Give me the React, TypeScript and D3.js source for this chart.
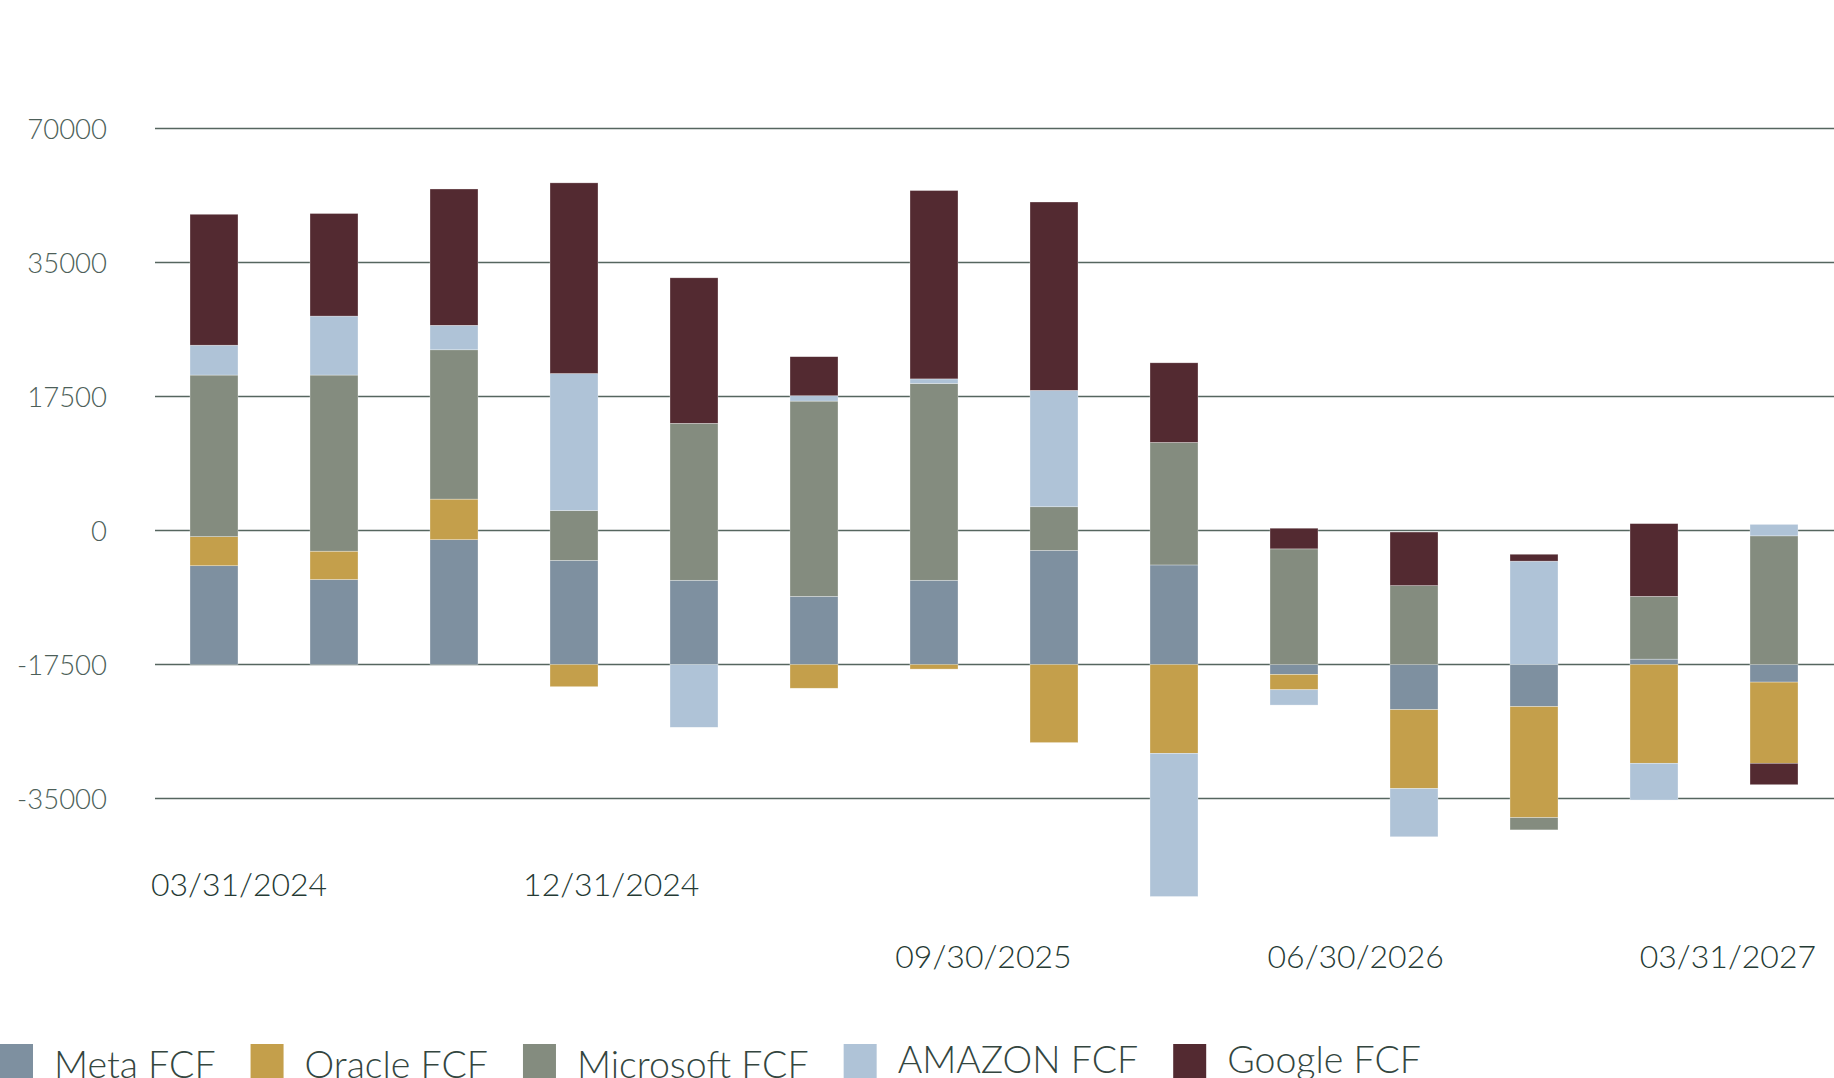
import { useEffect, useRef } from "react";
import * as d3 from "d3";

const W = 1834;
const H = 1078;

// quarter ends, one bar each
const quarters = [
  "03/31/2024", "06/30/2024", "09/30/2024", "12/31/2024",
  "03/31/2025", "06/30/2025", "09/30/2025", "12/31/2025",
  "03/31/2026", "06/30/2026", "09/30/2026", "12/31/2026",
  "03/31/2027", "06/30/2027",
];

// free cash flow per company (millions)
const metaFcf = [12900, 11100, 16300, 13600, 11000, 8900, 11000, 14900, 13000, -1300, -5900, -5500, 700, -2300];
const oracleFcf = [3800, 3700, 5300, -2900, 0, -3100, -600, -10200, -11600, -2000, -10300, -14500, -12900, -10600];
const microsoftFcf = [21100, 23000, 19500, 6500, 20500, 25500, 25700, 5700, 16000, 15100, 10300, -1600, 8200, 16800];
const amazonFcf = [3900, 7700, 3200, 17900, -8200, 700, 600, 15200, -18700, -2000, -6300, 13500, -4800, 1500];
const googleFcf = [17100, 13400, 17800, 24900, 19000, 5100, 24600, 24600, 10400, 2700, 7000, 900, 9500, -2800];

const seriesNames = ["Meta FCF", "Oracle FCF", "Microsoft FCF", "AMAZON FCF", "Google FCF"];
const seriesValues = [metaFcf, oracleFcf, microsoftFcf, amazonFcf, googleFcf];
const seriesColors = ["#7e90a0", "#c49f4b", "#848c7f", "#afc3d7", "#532a31"];

// gridlines and the labels printed next to them (as they appear in the source)
const tickValues = [-17500, 0, 17500, 35000, 52500, 70000];
const tickLabels = ["-35000", "-17500", "0", "17500", "35000", "70000"];

// only every third quarter is labelled, on two rows
const shownLabels = ["03/31/2024", "12/31/2024", "09/30/2025", "06/30/2026", "03/31/2027"];
const labelRows = [0, 0, 1, 1, 1];

const FONT = "Lato, 'Open Sans', sans-serif";

export default function App() {
  const ref = useRef<SVGSVGElement>(null);

  useEffect(() => {
    if (!ref.current) return;
    const svg = d3.select(ref.current);
    svg.selectAll("*").remove();

    const x = d3.scaleBand<string>().domain(quarters).range([154, W]).paddingInner(0.6).paddingOuter(0.3);
    const y = d3.scaleLinear().domain([-17500, 70000]).range([798.5, 128.5]);

    // gridlines
    svg.append("g")
      .selectAll("line")
      .data(tickValues)
      .join("line")
      .attr("x1", 155)
      .attr("x2", W)
      .attr("y1", d => y(d))
      .attr("y2", d => y(d))
      .attr("stroke", "#56665f")
      .attr("stroke-width", 1.5);

    svg.append("g")
      .selectAll("text")
      .data(tickValues)
      .join("text")
      .attr("x", 107)
      .attr("y", (d) => y(d) + 10)
      .attr("text-anchor", "end")
      .attr("font-family", FONT)
      .attr("font-weight", 300)
      .attr("font-size", 27.5)
      .attr("fill", "#4d5f59")
      .text((_, i) => tickLabels[i]);

    // stacked bars, positives up and negatives down from zero
    const rows = quarters.map((q, i) => {
      const r: Record<string, any> = { quarter: q };
      seriesNames.forEach((n, k) => (r[n] = seriesValues[k][i]));
      return r;
    });
    const stacked = d3.stack<Record<string, any>>().keys(seriesNames).offset(d3.stackOffsetDiverging)(rows);

    svg.append("g")
      .selectAll("g")
      .data(stacked)
      .join("g")
      .attr("fill", (_, i) => seriesColors[i])
      .selectAll("rect")
      .data(d => d)
      .join("rect")
      .attr("x", d => x(d.data.quarter)!)
      .attr("width", x.bandwidth())
      .attr("y", d => y(Math.max(d[0], d[1])))
      .attr("height", d => Math.abs(y(d[0]) - y(d[1])))
      .attr("stroke", "#ffffff")
      .attr("stroke-opacity", 0.5)
      .attr("stroke-width", 0.6);

    // date labels
    const labelX = d3.scaleBand<string>().domain(quarters).range([177, 1914]);
    const rowBaseline = [896, 968];
    svg.append("g")
      .selectAll("text")
      .data(shownLabels)
      .join("text")
      .attr("x", d => labelX(d)! + labelX.bandwidth() / 2)
      .attr("y", (_, i) => rowBaseline[labelRows[i]])
      .attr("text-anchor", "middle")
      .attr("font-family", FONT)
      .attr("font-weight", 300)
      .attr("font-size", 32)
      .attr("fill", "#253a34")
      .text(d => d);

    // legend, laid out left to right
    const legendDy = [5, 5, 5, 0, 0];
    const legend = svg.append("g");
    let cx = 0;
    seriesNames.forEach((name, i) => {
      legend.append("rect")
        .attr("x", cx)
        .attr("y", 1044)
        .attr("width", 33)
        .attr("height", 40)
        .attr("fill", seriesColors[i]);
      const t = legend.append("text")
        .attr("x", cx + 54)
        .attr("y", 1073 + legendDy[i])
        .attr("font-family", FONT)
        .attr("font-weight", 300)
        .attr("font-size", 37.5)
        .attr("fill", "#34463f")
        .text(name);
      const len = (t.node() as SVGTextElement).getComputedTextLength();
      cx += 54 + len + 35;
    });
  }, []);

  return (
    <svg
      ref={ref}
      width={W}
      height={H}
      style={{ position: "absolute", left: 0, top: 0, background: "#ffffff" }}
    />
  );
}
